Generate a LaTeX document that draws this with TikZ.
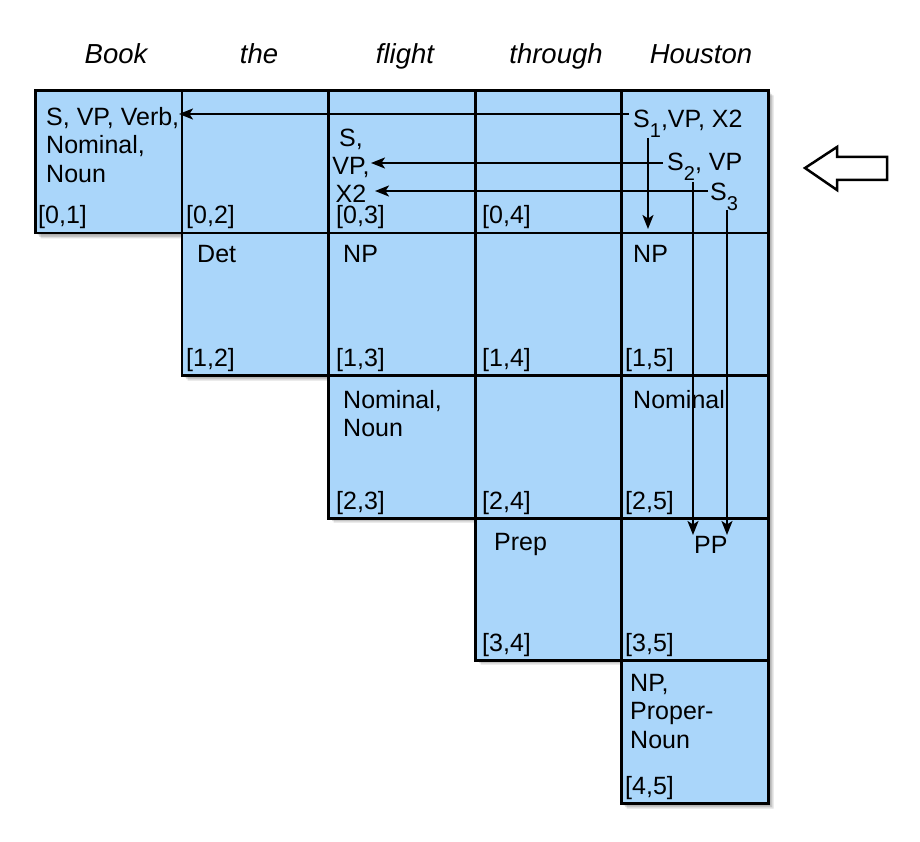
\documentclass[tikz,border=0pt]{standalone}
\usepackage{fontspec}
\setmainfont{Liberation Sans}
\usetikzlibrary{arrows.meta}
\definecolor{cellblue}{RGB}{170,214,250}
\newcommand{\subs}[1]{\raisebox{-10pt}{\fontsize{20}{20}\selectfont #1}}
\begin{document}
\begin{tikzpicture}[x=1pt,y=-1pt,
  txt/.style={inner sep=0pt, font=\fontsize{25}{28.5}\selectfont, anchor=base west},
  mtxt/.style={inner sep=0pt, font=\fontsize{25}{28.5}\selectfont, anchor=north west, align=left},
  ctxt/.style={inner sep=0pt, font=\fontsize{25}{28}\selectfont, anchor=north, align=center},
  word/.style={inner sep=0pt, font=\fontsize{27.5}{30}\selectfont\itshape, anchor=base},
  cell/.style={draw=black, line width=2.7pt, fill=cellblue, minimum width=146.6pt, minimum height=142.6pt, inner sep=0pt, anchor=north west},
  arr/.style={line width=1.9pt, -{Stealth[length=14pt,width=11pt,inset=3.5pt]}},
  shadowfill/.style={fill=black, opacity=0.12}]
\useasboundingbox (0,0) rectangle (920,842);
% shadow
\foreach \d in {2,3.5,5,6.5}{
  \fill[shadowfill, shift={(\d,\d)}] (34,89) -- (767,89) -- (767,802) -- (620,802) -- (620,658) -- (474,658) -- (474,516) -- (327,516) -- (327,374) -- (181,374) -- (181,232) -- (34,232) -- cycle;
}
% words
\node[word] (w1) at (116,64) {Book};
\node[word] (w2) at (259,64) {the};
\node[word] (w3) at (405,64) {flight};
\node[word] (w4) at (556,64) {through};
\node[word] (w5) at (701,64) {Houston};
% cells
\node[cell] (c01) at (34,89) {};
\node[cell] (c02) at (180.6,89) {};
\node[cell] (c03) at (327.2,89) {};
\node[cell] (c04) at (473.8,89) {};
\node[cell] (c05) at (620.4,89) {};
\node[cell] (c12) at (180.6,231.6) {};
\node[cell] (c13) at (327.2,231.6) {};
\node[cell] (c14) at (473.8,231.6) {};
\node[cell] (c15) at (620.4,231.6) {};
\node[cell] (c23) at (327.2,374.2) {};
\node[cell] (c24) at (473.8,374.2) {};
\node[cell] (c25) at (620.4,374.2) {};
\node[cell] (c34) at (473.8,516.8) {};
\node[cell] (c35) at (620.4,516.8) {};
\node[cell] (c45) at (620.4,659.4) {};
% index labels
\node[txt] (l01) at (38,224) {[0,1]};
\node[txt] (l02) at (186,224) {[0,2]};
\node[txt] (l03) at (336,224) {[0,3]};
\node[txt] (l04) at (482,224) {[0,4]};
\node[txt] (l12) at (186,366) {[1,2]};
\node[txt] (l13) at (336,366) {[1,3]};
\node[txt] (l14) at (482,366) {[1,4]};
\node[txt] (l15) at (625,366) {[1,5]};
\node[txt] (l23) at (336,509) {[2,3]};
\node[txt] (l24) at (482,509) {[2,4]};
\node[txt] (l25) at (625,509) {[2,5]};
\node[txt] (l34) at (482,651) {[3,4]};
\node[txt] (l35) at (625,651) {[3,5]};
\node[txt] (l45) at (625,794) {[4,5]};
% contents
\node[mtxt] (t01) at (46,107) {S, VP, Verb,\\Nominal,\\Noun};
\node[ctxt] (t03) at (351,128.5) {S,\\VP,\\X2};
\node[txt] (s1) at (633,128) {S\subs{1},VP, X2};
\node[txt] (s2) at (667,171) {S\subs{2}, VP};
\node[txt] (s3) at (710,201) {S\subs{3}};
\node[txt] (t12) at (197,262) {Det};
\node[txt] (t13) at (343,262) {NP};
\node[txt] (t15) at (633,262) {NP};
\node[mtxt] (t23) at (343,390) {Nominal,\\Noun};
\node[txt] (t25) at (633,408) {Nominal};
\node[txt] (t34) at (494,550) {Prep};
\node[txt] (t35) at (694,553) {PP};
\node[mtxt] (t45) at (630,674) {NP,\\Proper-\\Noun};
% arrows
\coordinate (a1s) at (629,114); \coordinate (a1e) at (179,114);
\coordinate (a2s) at (663,163); \coordinate (a2e) at (371,163);
\coordinate (a3s) at (708,191); \coordinate (a3e) at (375,191);
\coordinate (v1s) at (648,138); \coordinate (v1e) at (648,229);
\coordinate (v2s) at (693,182); \coordinate (v2e) at (693,535);
\coordinate (v3s) at (727,210); \coordinate (v3e) at (727,535);
\draw[arr] (a1s) -- (a1e);
\draw[arr] (a2s) -- (a2e);
\draw[arr] (a3s) -- (a3e);
\draw[arr] (v1s) -- (v1e);
\draw[arr] (v2s) -- (v2e);
\draw[arr] (v3s) -- (v3e);
% block arrow
\draw[line width=2.5pt, fill=white, line join=miter] (805,168) -- (837,147) -- (837,157) -- (887,157) -- (887,180) -- (837,180) -- (837,190) -- cycle;
\end{tikzpicture}
\end{document}
